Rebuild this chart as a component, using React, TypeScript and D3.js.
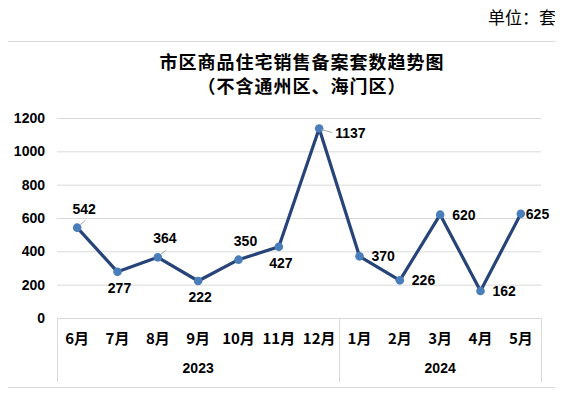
import React, { useEffect, useRef } from 'react';
import * as d3 from 'd3';

// monthly values
const months = ['6月', '7月', '8月', '9月', '10月', '11月', '12月', '1月', '2月', '3月', '4月', '5月'];
const years = ['2023', '2023', '2023', '2023', '2023', '2023', '2023', '2024', '2024', '2024', '2024', '2024'];
const values = [542, 277, 364, 222, 350, 427, 1137, 370, 226, 620, 162, 625];
const yTicks = [0, 200, 400, 600, 800, 1000, 1200];
// where each data label sits relative to its point
const labelPos = ['above', 'below', 'above', 'below', 'above', 'below', 'leader', 'right', 'right', 'right', 'right', 'tight'];

const W = 563;
const H = 397;

const App: React.FC = () => {
  const svgRef = useRef<SVGSVGElement>(null);

  useEffect(() => {
    if (!svgRef.current) return;
    const svg = d3.select(svgRef.current);
    svg.selectAll('*').remove();

    const left = 57, right = 541, top = 118, bottom = 318;
    const num = 'Liberation Sans, Arial, sans-serif';
    const cjk = '"Noto Sans CJK SC", sans-serif';

    svg.append('rect').attr('width', W).attr('height', H).attr('fill', '#fff');

    // outer frame
    svg.append('rect')
      .attr('x', 2.5).attr('y', 41.5).attr('width', 554).attr('height', 346)
      .attr('fill', 'none').attr('stroke', '#d9d9d9');

    svg.append('text')
      .attr('x', 556).attr('y', 24).attr('text-anchor', 'end')
      .attr('font-family', cjk).attr('font-size', 17).attr('fill', '#000')
      .text('单位：套');

    const title = svg.append('text')
      .attr('text-anchor', 'middle').attr('font-family', cjk)
      .attr('font-size', 18).attr('font-weight', 'bold').attr('fill', '#000')
      .attr('letter-spacing', 1);
    title.append('tspan').attr('x', 302).attr('y', 69).text('市区商品住宅销售备案套数趋势图');
    title.append('tspan').attr('x', 302).attr('y', 93).text('（不含通州区、海门区）');

    const x = d3.scaleBand<number>()
      .domain(d3.range(months.length))
      .range([left, right]);

    const y = d3.scaleLinear().domain([0, 1200]).range([bottom, top]);

    // gridlines
    svg.append('g').selectAll('line')
      .data(yTicks)
      .enter().append('line')
      .attr('x1', left).attr('x2', right)
      .attr('y1', d => y(d) + 0.5).attr('y2', d => y(d) + 0.5)
      .attr('stroke', '#d9d9d9');

    svg.append('g').selectAll('text')
      .data(yTicks)
      .enter().append('text')
      .attr('x', 45).attr('y', d => y(d) + 5)
      .attr('text-anchor', 'end')
      .attr('font-family', num).attr('font-size', 14).attr('font-weight', 'bold')
      .text(d => d);

    // category axis: month labels, year groups, dividers
    const groups = Array.from(d3.group(d3.range(years.length), i => years[i]), ([yr, idx]) => ({ yr, idx }));
    const bounds = [left, ...groups.map(g => (x(g.idx[g.idx.length - 1]) || 0) + x.bandwidth())];
    svg.append('g').selectAll('line')
      .data(bounds)
      .enter().append('line')
      .attr('x1', d => Math.round(d) + 0.5).attr('x2', d => Math.round(d) + 0.5)
      .attr('y1', bottom).attr('y2', 382)
      .attr('stroke', '#d9d9d9');

    svg.append('g').selectAll('text')
      .data(months)
      .enter().append('text')
      .attr('x', (_, i) => (x(i) || 0) + x.bandwidth() / 2)
      .attr('y', 344)
      .attr('text-anchor', 'middle')
      .attr('font-family', cjk).attr('font-size', 15).attr('font-weight', 'bold')
      .text(d => d);

    svg.append('g').selectAll('text')
      .data(groups)
      .enter().append('text')
      .attr('x', g => ((x(g.idx[0]) || 0) + (x(g.idx[g.idx.length - 1]) || 0) + x.bandwidth()) / 2)
      .attr('y', 373)
      .attr('text-anchor', 'middle')
      .attr('font-family', num).attr('font-size', 14).attr('font-weight', 'bold')
      .text(g => g.yr);

    const cx = (i: number) => (x(i) || 0) + x.bandwidth() / 2;

    const line = d3.line<number>()
      .x((_, i) => cx(i))
      .y(d => y(d));

    svg.append('path')
      .datum(values)
      .attr('d', line)
      .attr('fill', 'none')
      .attr('stroke', '#264478')
      .attr('stroke-width', 3.2)
      .attr('stroke-linejoin', 'round');

    svg.append('g').selectAll('circle')
      .data(values)
      .enter().append('circle')
      .attr('cx', (_, i) => cx(i))
      .attr('cy', d => y(d))
      .attr('r', 4.3)
      .attr('fill', '#4a7ebb');

    const off: Record<string, [number, number, string]> = {
      above: [7, -14, 'middle'],
      below: [2, 21, 'middle'],
      right: [12, 5, 'start'],
      leader: [16, 9, 'start'],
      tight: [5, 5, 'start'],
    };

    // small leader lines
    [0, 2].forEach(i => {
      svg.append('line')
        .attr('x1', cx(i) + 3).attr('y1', y(values[i]) - 3)
        .attr('x2', cx(i) + 8).attr('y2', y(values[i]) - 7)
        .attr('stroke', '#a6a6a6');
    });
    svg.append('line')
      .attr('x1', cx(6) + 2).attr('y1', y(values[6]) + 1)
      .attr('x2', cx(6) + 13).attr('y2', y(values[6]) + 4)
      .attr('stroke', '#a6a6a6');

    svg.append('g').selectAll('text')
      .data(values)
      .enter().append('text')
      .attr('x', (_, i) => cx(i) + off[labelPos[i]][0])
      .attr('y', (d, i) => y(d) + off[labelPos[i]][1])
      .attr('text-anchor', (_, i) => off[labelPos[i]][2])
      .attr('font-family', num).attr('font-size', 14).attr('font-weight', 'bold')
      .text(d => d);
  }, []);

  return <svg ref={svgRef} width={W} height={H} style={{ display: 'block', margin: '-8px' }} />;
};

export default App;
